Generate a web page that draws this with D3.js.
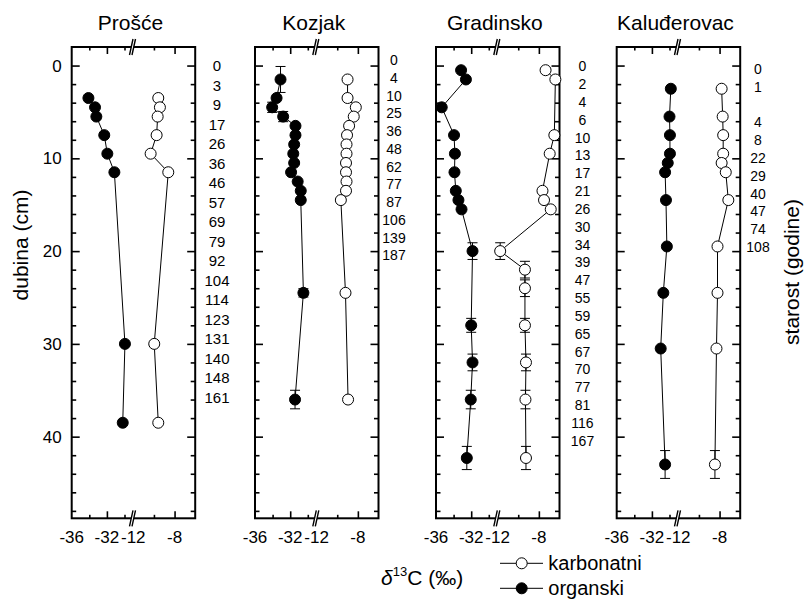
<!DOCTYPE html>
<html>
<head>
<meta charset="utf-8">
<script src="https://cdn.jsdelivr.net/npm/d3@7"></script>
<style>
  body { margin: 0; background: #fff; }
  svg { font-family: "Liberation Sans", Arial, sans-serif; }
</style>
</head>
<body>
<svg width="808" height="599"></svg>
<script>
// site names and panel positions
const sites = ['Prošće', 'Kozjak', 'Gradinsko', 'Kaluđerovac']

// depth (cm), organic δ13C, carbonate δ13C, depth errors
const prosceDepth = [3.5, 4.5, 5.5, 7.5, 9.5, 11.5, 30, 38.5]
const prosceOrg = [-34.1, -33.35, -33.2, -32.3, -31.95, -31.15, -29.95, -30.2]
const prosceCarb = [-9.58, -9.42, -9.64, -9.74, -10.32, -8.61, -9.97, -9.58]
const prosceErr = [0, 0, 0, 0, 0, 0, 0, 0]

const kozjakDepth = [1.5, 3.5, 4.5, 5.5, 6.5, 7.5, 8.5, 9.5, 10.5, 11.5, 12.5, 13.5, 14.5, 24.5, 36]
const kozjakOrg = [-33.1, -33.55, -34.05, -32.8, -31.4, -31.4, -31.55, -31.65, -31.55, -31.9, -31.15, -30.8, -30.8, -30.5, -31.45]
const kozjakCarb = [-9.0, -9.0, -8.2, -8.4, -8.85, -9.05, -9.1, -9.1, -9.15, -9.15, -9.1, -9.15, -9.65, -9.2, -8.95]
const kozjakOrgErr = [1.4, 0, 0.55, 0.55, 0, 0, 0, 0, 0, 0, 0, 0, 0, 0.45, 1.0]
const kozjakCarbErr = [0, 0, 0, 0, 0, 0, 0, 0, 0, 0, 0, 0, 0, 0, 0]

const gradOrgDepth = [0.5, 1.5, 4.5, 7.5, 9.5, 11.5, 13.5, 14.5, 15.5, 20, 28, 32, 36, 42.3]
const gradOrg = [-33.15, -32.6, -35.35, -33.95, -33.85, -33.9, -33.75, -33.45, -33.1, -31.85, -32.0, -31.85, -32.05, -32.5]
const gradOrgErr = [0, 0, 0, 0, 0, 0, 0, 0, 0, 0.9, 0.75, 0.9, 1.0, 1.25]
const gradCarbDepth = [0.5, 1.5, 7.5, 9.5, 13.5, 14.5, 15.5, 20, 22, 24, 28, 32, 36, 42.3]
const gradCarb = [-7.35, -6.4, -6.5, -6.95, -7.65, -7.5, -6.85, -11.75, -9.35, -9.35, -9.35, -9.25, -9.3, -9.25]
const gradCarbErr = [0, 0, 0, 0, 0, 0, 0, 0.9, 0.9, 0.9, 0.75, 0.9, 1.0, 1.25]

const kaluDepth = [2.5, 5.5, 7.5, 9.5, 10.5, 11.5, 14.5, 19.5, 24.5, 30.5, 43]
const kaluOrg = [-29.85, -30.0, -29.95, -29.95, -30.2, -30.5, -30.4, -30.3, -30.7, -31.0, -30.5]
const kaluCarb = [-7.8, -7.7, -7.65, -7.65, -7.8, -7.4, -7.15, -8.2, -8.2, -8.3, -8.45]
const kaluErr = [0, 0, 0, 0, 0, 0, 0, 0, 0, 0, 1.5]

// age labels (godine) next to each core
const prosceAges = ['0','3','9','17','26','36','46','57','69','79','92','104','114','123','131','140','148','161']
const kozjakAges = ['0','4','10','25','36','48','62','77','87','106','139','187']
const gradAges = ['0','2','4','6','10','13','17','21','26','30','34','39','47','55','59','65','67','70','77','81','116','167']
const kaluAges = ['0','1','','4','8','22','29','40','47','74','108']

const depthTicks = [0, 10, 20, 30, 40]
const xTickLabels = [-36, -32, -12, -8]

const panels = [
  {name: sites[0], x0: 71.7, org: [prosceDepth, prosceOrg, prosceErr], carb: [prosceDepth, prosceCarb, prosceErr],
   ages: prosceAges, ax: 217, ay: 65.7, astep: 19.5, afont: 15},
  {name: sites[1], x0: 255, org: [kozjakDepth, kozjakOrg, kozjakOrgErr], carb: [kozjakDepth, kozjakCarb, kozjakCarbErr],
   ages: kozjakAges, ax: 394, ay: 60, astep: 17.75, afont: 14},
  {name: sites[2], x0: 436, org: [gradOrgDepth, gradOrg, gradOrgErr], carb: [gradCarbDepth, gradCarb, gradCarbErr],
   ages: gradAges, ax: 582.5, ay: 66.3, astep: 17.83, afont: 14},
  {name: sites[3], x0: 616.7, org: [kaluDepth, kaluOrg, kaluErr], carb: [kaluDepth, kaluCarb, kaluErr],
   ages: kaluAges, ax: 758, ay: 69, astep: 17.8, afont: 14}
]

const svg = d3.select('svg')
const W = 123.5, yTop = 47, yBot = 518.3, brk = 61.6

const y = d3.scaleLinear().domain([-2, 48.8]).range([yTop, yBot])
const xL = d3.scaleLinear().domain([-36, -29]).range([0, brk])
const xR = d3.scaleLinear().domain([-12, -6]).range([brk, W])
const xOf = v => v < -20 ? xL(v) : xR(v)

const minorDepth = d3.range(2, 49, 2).filter(d => d % 10 != 0)

function styleAxis(g){
  g.select('.domain').remove()
  g.selectAll('line').attr('stroke', '#000').attr('stroke-width', 1.6)
  g.selectAll('text').attr('fill', '#000')
}

panels.forEach((p, pi) => {
  const g = svg.append('g').attr('transform', `translate(${p.x0},0)`)

  // title
  g.append('text').attr('x', W / 2 - 3).attr('y', 30)
    .attr('text-anchor', 'middle').attr('font-size', 21).text(p.name)

  // y axes, ticks inward on both sides
  g.append('g').call(d3.axisLeft(y).tickValues(depthTicks).tickSizeInner(-8).tickSizeOuter(0).tickPadding(10)
      .tickFormat(pi == 0 ? d3.format('d') : ''))
    .attr('font-size', 17).attr('font-family', null).call(styleAxis)
  g.append('g').call(d3.axisLeft(y).tickValues(minorDepth).tickSizeInner(-4.5).tickSizeOuter(0).tickFormat(''))
    .call(styleAxis)
  g.append('g').attr('transform', `translate(${W},0)`)
    .call(d3.axisRight(y).tickValues(depthTicks).tickSizeInner(-8).tickSizeOuter(0).tickFormat(''))
    .call(styleAxis)
  g.append('g').attr('transform', `translate(${W},0)`)
    .call(d3.axisRight(y).tickValues(minorDepth).tickSizeInner(-4.5).tickSizeOuter(0).tickFormat(''))
    .call(styleAxis)

  // x axes (broken), ticks inward
  ;[[xL, [-32], [-34, -30]], [xR, [-8], [-10]]].forEach(([sc, major, minor]) => {
    g.append('g').attr('transform', `translate(0,${yBot})`)
      .call(d3.axisBottom(sc).tickValues(major).tickSizeInner(-7).tickSizeOuter(0).tickFormat(''))
      .call(styleAxis)
    g.append('g').attr('transform', `translate(0,${yBot})`)
      .call(d3.axisBottom(sc).tickValues(minor).tickSizeInner(-3.5).tickSizeOuter(0).tickFormat(''))
      .call(styleAxis)
    g.append('g').attr('transform', `translate(0,${yTop})`)
      .call(d3.axisTop(sc).tickValues(major).tickSizeInner(-7).tickSizeOuter(0).tickFormat(''))
      .call(styleAxis)
    g.append('g').attr('transform', `translate(0,${yTop})`)
      .call(d3.axisTop(sc).tickValues(minor).tickSizeInner(-3.5).tickSizeOuter(0).tickFormat(''))
      .call(styleAxis)
  })
  // x tick labels
  g.selectAll('.xlab').data(xTickLabels).enter().append('text')
    .attr('x', d => xOf(d)).attr('y', yBot + 25)
    .attr('text-anchor', 'middle').attr('font-size', 17).text(d => d)

  // frame
  g.append('rect').attr('x', 0).attr('y', yTop).attr('width', W).attr('height', yBot - yTop)
    .attr('fill', 'none').attr('stroke', '#000').attr('stroke-width', 2)

  // axis break marks
  ;[yTop, yBot].forEach(yb => {
    g.append('path').attr('d', `M${brk - 3.8},${yb + 8} L${brk - 0.3},${yb - 8} L${brk + 2.2},${yb - 8} L${brk - 1.3},${yb + 8} Z`)
      .attr('fill', '#fff').attr('stroke', 'none')
    g.append('path').attr('d', `M${brk - 3.8},${yb + 8} L${brk - 0.3},${yb - 8} M${brk - 1.3},${yb + 8} L${brk + 2.2},${yb - 8}`)
      .attr('stroke', '#000').attr('stroke-width', 1.4)
  })

  // series
  ;[[p.carb, '#fff'], [p.org, '#000']].forEach(([[dep, val, err], fill]) => {
    const pts = dep.map((d, i) => ({d, v: val[i], e: err[i]}))
    g.append('path').datum(pts)
      .attr('d', d3.line().x(q => xOf(q.v)).y(q => y(q.d)))
      .attr('fill', 'none').attr('stroke', '#000').attr('stroke-width', 1)
    const eb = g.append('g').selectAll('g').data(pts.filter(q => q.e > 0)).enter().append('g')
    eb.append('line').attr('x1', q => xOf(q.v)).attr('x2', q => xOf(q.v))
      .attr('y1', q => y(q.d - q.e)).attr('y2', q => y(q.d + q.e))
      .attr('stroke', '#000').attr('stroke-width', 1)
    ;[-1, 1].forEach(s => {
      eb.append('line').attr('x1', q => xOf(q.v) - 5).attr('x2', q => xOf(q.v) + 5)
        .attr('y1', q => y(q.d + s * q.e)).attr('y2', q => y(q.d + s * q.e))
        .attr('stroke', '#000').attr('stroke-width', 1)
    })
    g.append('g').selectAll('circle').data(pts).enter().append('circle')
      .attr('cx', q => xOf(q.v)).attr('cy', q => y(q.d)).attr('r', 5.5)
      .attr('fill', fill).attr('stroke', '#000').attr('stroke-width', 1)
  })

  // age labels
  svg.append('g').selectAll('text').data(p.ages).enter().append('text')
    .attr('x', p.ax).attr('y', (d, i) => p.ay + i * p.astep).attr('dy', '0.36em')
    .attr('text-anchor', 'middle').attr('font-size', p.afont).text(d => d)
})

// axis titles
svg.append('text').attr('transform', 'translate(28,245) rotate(-90)')
  .attr('text-anchor', 'middle').attr('font-size', 21).text('dubina (cm)')
svg.append('text').attr('transform', 'translate(799,272) rotate(-90)')
  .attr('text-anchor', 'middle').attr('font-size', 21).text('starost (godine)')

const xt = svg.append('text').attr('x', 381).attr('y', 585).attr('font-size', 21)
xt.append('tspan').attr('font-style', 'italic').text('δ')
xt.append('tspan').attr('font-size', 13).attr('dy', -9).text('13')
xt.append('tspan').attr('dy', 9).text('C (‰)')

// legend
const legend = [['karbonatni', '#fff', 563.3], ['organski', '#000', 588.3]]
const lg = svg.append('g').selectAll('g').data(legend).enter().append('g')
lg.append('line').attr('x1', 500).attr('x2', 543).attr('y1', d => d[2]).attr('y2', d => d[2])
  .attr('stroke', '#000').attr('stroke-width', 1)
lg.append('circle').attr('cx', 521.7).attr('cy', d => d[2]).attr('r', 5.5)
  .attr('fill', d => d[1]).attr('stroke', '#000')
lg.append('text').attr('x', 548.3).attr('y', d => d[2] + 6.8).attr('font-size', 20).text(d => d[0])
</script>
</body>
</html>
